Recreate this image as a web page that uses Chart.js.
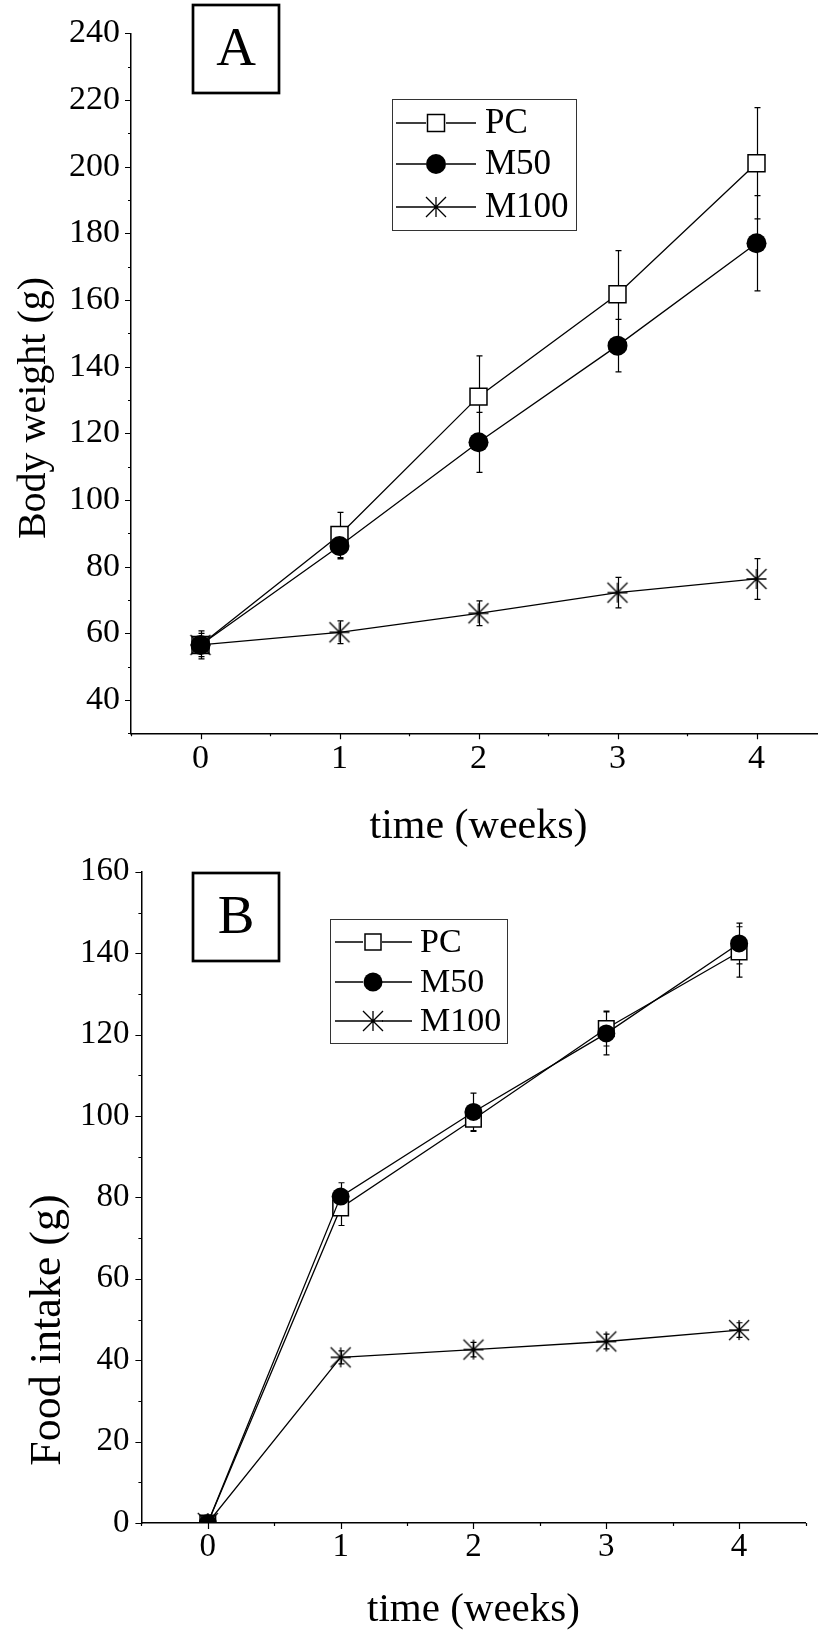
<!DOCTYPE html>
<html>
<head>
<meta charset="utf-8">
<script src="https://cdn.jsdelivr.net/npm/chart.js@4"></script>
<style>
html, body { margin: 0; padding: 0; background: #fff; overflow: hidden; }
body { width: 818px; height: 1631px; position: relative; }
canvas { position: absolute; left: 0; }
#chartA { top: 0; }
#chartB { top: 840px; }
</style>
</head>
<body>
<canvas id="chartA" width="840" height="860"></canvas>
<canvas id="chartB" width="818" height="795"></canvas>
<script>
// DATA
const weeks = [0, 1, 2, 3, 4];
const seriesNames = ['PC', 'M50', 'M100'];

// A - body weight (g)
const weightPC = [56.5, 89.5, 131, 161.7, 201];
const weightPCErr = [4.2, 6.8, 12.2, 13.1, 16.7];
const weightM50 = [56.5, 86.2, 117.3, 146.3, 177];
const weightM50Err = [4.2, 3.9, 9, 7.9, 14.3];
const weightM100 = [56.5, 60.3, 66, 72.2, 76.3];
const weightM100Err = [3.5, 3.4, 3.7, 4.6, 6.1];

// B - food intake (g)
const intakePC = [0, 77.4, 99.2, 121.5, 140.3];
const intakePCErr = [0, 4.3, 3, 4.3, 6.2];
const intakeM50 = [0, 80.2, 101, 120.3, 142.4];
const intakeM50Err = [0, 3.4, 4.6, 5.3, 5];
const intakeM100 = [0, 40.7, 42.6, 44.6, 47.4];
const intakeM100Err = [0, 1.6, 1.8, 1.8, 1.8];

const SERIF = "'Liberation Serif', 'Times New Roman', serif";

// STAR MARKER (8 arms in a square)
function makeStar(size) {
    const c = document.createElement('canvas');
    c.width = c.height = size + 4;
    const g = c.getContext('2d');
    const m = c.width / 2, r = size / 2;
    g.strokeStyle = '#000';
    g.lineWidth = 1.3;
    g.beginPath();
    g.moveTo(m - r, m); g.lineTo(m + r, m);
    g.moveTo(m, m - r); g.lineTo(m, m + r);
    g.moveTo(m - r, m - r); g.lineTo(m + r, m + r);
    g.moveTo(m - r, m + r); g.lineTo(m + r, m - r);
    g.stroke();
    return c;
}
const starImg = makeStar(20);

function drawMarker(ctx, kind, x, y, size) {
    ctx.save();
    if (kind === 'rect') {
        ctx.fillStyle = '#fff';
        ctx.strokeStyle = '#000';
        ctx.lineWidth = 1.5;
        ctx.fillRect(x - size / 2, y - size / 2, size, size);
        ctx.strokeRect(x - size / 2, y - size / 2, size, size);
    } else if (kind === 'circle') {
        ctx.fillStyle = '#000';
        ctx.beginPath();
        ctx.arc(x, y, size / 2, 0, Math.PI * 2);
        ctx.fill();
    } else {
        ctx.drawImage(starImg, x - starImg.width / 2, y - starImg.height / 2);
    }
    ctx.restore();
}

// ERROR BARS + AXIS TICKS + TITLE + LEGEND + PANEL LETTER
function makeDecor(d) {
    return {
        id: 'decor',
        beforeDatasetsDraw(chart) {
            const { ctx, scales: { x, y } } = chart;
            ctx.save();
            ctx.strokeStyle = '#000';
            ctx.lineWidth = 1.2;
            ctx.beginPath();
            d.errors.forEach(([vals, errs]) => {
                vals.forEach((v, i) => {
                    if (!errs[i]) return;
                    const px = Math.round(x.getPixelForValue(weeks[i])) + 0.5;
                    const top = y.getPixelForValue(v + errs[i]);
                    const bot = y.getPixelForValue(v - errs[i]);
                    ctx.moveTo(px, top); ctx.lineTo(px, bot);
                    ctx.moveTo(px - 3, top); ctx.lineTo(px + 3, top);
                    ctx.moveTo(px - 3, bot); ctx.lineTo(px + 3, bot);
                });
            });
            ctx.stroke();
            ctx.restore();
        },
        afterDraw(chart) {
            const { ctx, chartArea: a, scales } = chart;
            ctx.save();
            // ticks
            ctx.strokeStyle = '#000';
            ctx.lineWidth = 1.2;
            ctx.beginPath();
            scales.y.ticks.forEach(t => {
                const py = Math.round(scales.y.getPixelForValue(t.value)) + 0.5;
                const len = t.label !== '' ? 6 : 3;
                ctx.moveTo(a.left - len, py); ctx.lineTo(a.left, py);
            });
            scales.x.ticks.forEach(t => {
                const px = Math.round(scales.x.getPixelForValue(t.value)) + 0.5;
                const len = t.label !== '' ? 6 : 3;
                ctx.moveTo(px, a.bottom); ctx.lineTo(px, a.bottom + len);
            });
            ctx.stroke();

            // y title
            ctx.fillStyle = '#000';
            ctx.font = d.yTitle.size + 'px ' + SERIF;
            ctx.textAlign = 'center';
            ctx.textBaseline = 'middle';
            ctx.translate(d.yTitle.x, d.yTitle.y);
            ctx.rotate(-Math.PI / 2);
            ctx.fillText(d.yTitle.text, 0, 0);
            ctx.setTransform(1, 0, 0, 1, 0, 0);

            // panel letter
            const p = d.panel;
            ctx.lineWidth = 2.7;
            ctx.strokeRect(p.x, p.y, p.w, p.h);
            ctx.font = p.size + 'px ' + SERIF;
            ctx.fillText(p.text, p.x + p.w / 2, p.y + p.h / 2 + 2);

            // legend
            const L = d.legend;
            ctx.lineWidth = 1;
            ctx.strokeStyle = '#333';
            ctx.strokeRect(L.x0 + 0.5, L.y0 + 0.5, L.x1 - L.x0, L.y1 - L.y0);
            ctx.strokeStyle = '#000';
            ctx.lineWidth = 1.3;
            ctx.font = L.size + 'px ' + SERIF;
            ctx.textAlign = 'left';
            seriesNames.forEach((name, i) => {
                const ry = L.rows[i];
                ctx.beginPath();
                ctx.moveTo(L.lineL[0], ry); ctx.lineTo(L.lineL[1], ry);
                ctx.moveTo(L.lineR[0], ry); ctx.lineTo(L.lineR[1], ry);
                ctx.stroke();
                drawMarker(ctx, ['rect', 'circle', 'star'][i], L.markX, ry, L.marks[i]);
                ctx.fillText(name, L.textX, ry + 1);
            });
            ctx.restore();
        }
    };
}

function buildChart(canvasId, cfg) {
    const toPoints = vals => vals.map((v, i) => ({ x: weeks[i], y: v }));
    const clip = cfg.clipBottom ? { left: false, top: false, right: false, bottom: 0 } : false;
    const base = { borderColor: '#000', borderWidth: 1.3, tension: 0, clip: clip };
    return new Chart(document.getElementById(canvasId), {
        type: 'line',
        data: {
            datasets: [
                Object.assign({
                    label: seriesNames[0], data: toPoints(cfg.series[0]), order: 3,
                    pointStyle: 'rect', pointRadius: cfg.rectR,
                    pointBackgroundColor: '#fff', pointBorderColor: '#000', pointBorderWidth: 1.5
                }, base),
                Object.assign({
                    label: seriesNames[1], data: toPoints(cfg.series[1]), order: 2,
                    pointStyle: 'circle', pointRadius: cfg.circleR,
                    pointBackgroundColor: '#000', pointBorderColor: '#000', pointBorderWidth: 0
                }, base),
                Object.assign({
                    label: seriesNames[2], data: toPoints(cfg.series[2]), order: 1,
                    pointStyle: starImg, pointRadius: 10
                }, base)
            ]
        },
        options: {
            responsive: false,
            animation: false,
            events: [],
            layout: { padding: cfg.padding },
            plugins: { legend: { display: false }, tooltip: { enabled: false } },
            scales: {
                x: {
                    type: 'linear', min: -0.5, max: 4.5,
                    afterFit: s => { s.height = cfg.xHeight; },
                    grid: { display: false, drawTicks: false },
                    border: { display: true, color: '#000', width: 1.5 },
                    ticks: {
                        stepSize: 0.5, autoSkip: false, maxRotation: 0, padding: 5,
                        color: '#000', font: { family: SERIF, size: cfg.tickSize },
                        callback: v => Number.isInteger(v) ? String(v) : ''
                    },
                    title: {
                        display: true, text: 'time (weeks)', color: '#000',
                        font: { family: SERIF, size: cfg.xTitleSize },
                        padding: { top: 0, bottom: cfg.xTitlePad }
                    }
                },
                y: {
                    type: 'linear', min: cfg.yMin, max: cfg.yMax,
                    afterFit: s => { s.width = cfg.yWidth; },
                    grid: { display: false, drawTicks: false },
                    border: { display: true, color: '#000', width: 1.5 },
                    ticks: {
                        stepSize: cfg.yStep, autoSkip: false, padding: cfg.yPad,
                        color: '#000', font: { family: SERIF, size: cfg.tickSize },
                        callback: v => v % cfg.yLabelStep === 0 ? String(v) : ''
                    }
                }
            }
        },
        plugins: [makeDecor(cfg.decor)]
    });
}

buildChart('chartA', {
    series: [weightPC, weightM50, weightM100],
    yMin: 30, yMax: 240, yStep: 10, yLabelStep: 20,
    padding: { top: 33.3, right: 14, left: 0, bottom: 0 },
    yWidth: 131, xHeight: 126.7, yPad: 11,
    tickSize: 34, xTitleSize: 42, xTitlePad: 8,
    rectR: 12, circleR: 10, clipBottom: false,
    decor: {
        errors: [[weightPC, weightPCErr], [weightM50, weightM50Err], [weightM100, weightM100Err]],
        yTitle: { text: 'Body weight (g)', x: 34, y: 408, size: 40 },
        panel: { text: 'A', x: 193, y: 5, w: 86, h: 88, size: 55 },
        legend: {
            x0: 392, y0: 99, x1: 576, y1: 230, rows: [123, 164, 207],
            lineL: [396, 426], lineR: [446, 476], markX: 436, textX: 485, size: 35,
            marks: [17, 20, 20]
        }
    }
});

buildChart('chartB', {
    series: [intakePC, intakeM50, intakeM100],
    yMin: 0, yMax: 160, yStep: 10, yLabelStep: 20,
    padding: { top: 21.7, right: 11.8, left: 0, bottom: 0 },
    yWidth: 141.4, xHeight: 112, yPad: 12,
    tickSize: 33, xTitleSize: 41, xTitlePad: 0,
    rectR: 11, circleR: 9, clipBottom: true,
    decor: {
        errors: [[intakePC, intakePCErr], [intakeM50, intakeM50Err], [intakeM100, intakeM100Err]],
        yTitle: { text: 'Food intake (g)', x: 48, y: 490, size: 44 },
        panel: { text: 'B', x: 193, y: 33, w: 86, h: 88, size: 55 },
        legend: {
            x0: 330, y0: 79, x1: 507, y1: 203, rows: [102, 142, 181],
            lineL: [335, 363], lineR: [382, 412], markX: 373, textX: 420, size: 34,
            marks: [16, 19, 20]
        }
    }
});
</script>
</body>
</html>
